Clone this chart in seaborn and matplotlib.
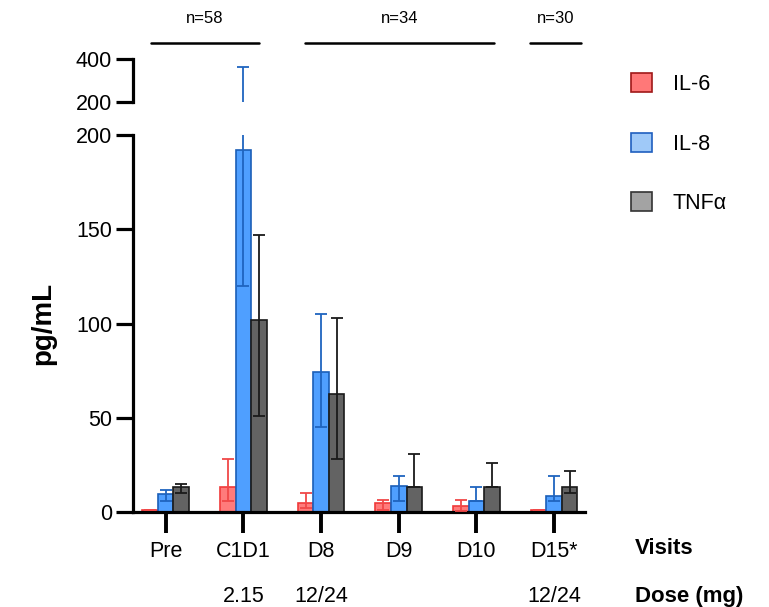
import numpy as np
import pandas as pd
import seaborn as sns
import matplotlib.pyplot as plt
from matplotlib.patches import Patch
from matplotlib.transforms import blended_transform_factory

visits = ["Pre", "C1D1", "D8", "D9", "D10", "D15*"]
doses = ["", "2.15", "12/24", "", "", "12/24"]
cytokines = ["IL-6", "IL-8", "TNFα"]

il6 = [1, 13, 5, 5, 3, 1]
il6_lo = [1, 6, 2, 1, 0.5, 1]
il6_hi = [1, 28, 10, 6.5, 6.5, 1]

il8 = [9.5, 192, 74.5, 14, 6, 8.5]
il8_lo = [6, 120, 45, 6, 6, 6]
il8_hi = [11.5, 365, 105, 19, 13, 19]

tnf = [13, 102, 62.5, 13, 13, 13]
tnf_lo = [10, 51, 28, 13, 13, 10]
tnf_hi = [15, 147, 103, 31, 26, 22]

groups = ["n=58", "n=34", "n=30"]
group_spans = [(-0.19, 1.2), (1.79, 4.23), (4.69, 5.35)]

bar_fill = ["#ff7b7b", "#4f9fff", "#636363"]
bar_edge = ["#f03a3a", "#1b5fb8", "#1a1a1a"]
err_col = ["#f04848", "#1f64bf", "#1a1a1a"]
leg_fill = ["#ff7878", "#9fc9f8", "#a3a3a3"]
leg_edge = ["#a01818", "#1f5fbf", "#333333"]

means = [il6, il8, tnf]
lows = [il6_lo, il8_lo, tnf_lo]
highs = [il6_hi, il8_hi, tnf_hi]

rows = []
for c, vals in zip(cytokines, means):
    for v, val in zip(visits, vals):
        rows.append({"visit": v, "value": val, "cytokine": c})
df = pd.DataFrame(rows)

sns.set_style("white")
plt.rcParams["font.family"] = ["Liberation Sans", "DejaVu Sans"]
plt.rcParams["text.color"] = "black"
plt.rcParams["axes.labelcolor"] = "black"
plt.rcParams["xtick.color"] = "black"
plt.rcParams["ytick.color"] = "black"

fig = plt.figure(figsize=(7.69, 6.07), dpi=100)
ax = fig.add_axes([0.173, 0.1565, 0.588, 0.6211])
ax_top = fig.add_axes([0.173, 0.8325, 0.588, 0.0698])


def draw(a):
    sns.barplot(data=df, x="visit", y="value", hue="cytokine", order=visits,
                hue_order=cytokines, palette=bar_fill, width=0.6, gap=0,
                errorbar=None, legend=False, linewidth=1.2, saturation=1, ax=a)
    bars = list(a.containers)
    for i, cont in enumerate(bars):
        xs = []
        for p in cont:
            p.set_edgecolor(bar_edge[i])
            xs.append(p.get_x() + p.get_width() / 2)
        m = np.array(means[i], dtype=float)
        lo = m - np.array(lows[i], dtype=float)
        hi = np.array(highs[i], dtype=float) - m
        a.errorbar(xs, m, yerr=[lo, hi], fmt="none", ecolor=err_col[i],
                   elinewidth=1.3, capsize=4, capthick=1.3, zorder=3)
    a.set_xlim(-0.42, 5.40)
    a.set_xlabel("")
    a.set_ylabel("")


draw(ax)
draw(ax_top)

ax.set_ylim(0, 200)
ax.set_yticks([0, 50, 100, 150, 200])
for s in ["top", "right"]:
    ax.spines[s].set_visible(False)
for s in ["left", "bottom"]:
    ax.spines[s].set_linewidth(2.3)
    ax.spines[s].set_color("black")
ax.tick_params(axis="y", direction="out", length=12, width=2.3, labelsize=15.5, pad=3, left=True)
ax.tick_params(axis="x", direction="out", length=15, width=2.8, labelsize=15.5, pad=6, bottom=True)
ax.set_ylabel("pg/mL", fontsize=20, fontweight="bold", labelpad=14)

ax_top.set_ylim(200, 400)
ax_top.set_yticks([200, 400])
for s in ["top", "right", "bottom"]:
    ax_top.spines[s].set_visible(False)
ax_top.spines["left"].set_linewidth(2.3)
ax_top.spines["left"].set_color("black")
ax_top.set_xticks([])
ax_top.tick_params(axis="y", direction="out", length=12, width=2.3, labelsize=15.5, pad=3, left=True)
ax_top.patch.set_visible(False)

# group brackets above the plot
tr = blended_transform_factory(ax.transData, fig.transFigure)
for g, (x0, x1) in zip(groups, group_spans):
    fig.lines.append(plt.Line2D([x0, x1], [0.929, 0.929], transform=tr, color="black", lw=1.8))
    fig.text((x0 + x1) / 2, 0.969, g, transform=tr, ha="center", va="center", fontsize=12)

# dose row and row titles
for i, d in enumerate(doses):
    if d:
        fig.text(i, 0.018, d, transform=tr, ha="center", va="center", fontsize=15.5)
fig.text(0.826, 0.097, "Visits", ha="left", va="center", fontsize=16, fontweight="bold")
fig.text(0.826, 0.018, "Dose (mg)", ha="left", va="center", fontsize=16, fontweight="bold")

handles = [Patch(facecolor=f, edgecolor=e, linewidth=1.2) for f, e in zip(leg_fill, leg_edge)]
fig.legend(handles, cytokines, loc="upper left", bbox_to_anchor=(0.820, 0.880),
           frameon=False, fontsize=15.5, handlelength=1.0, handleheight=1.0,
           handletextpad=0.95, labelspacing=1.75, borderpad=0, borderaxespad=0)

fig.savefig("out.png", dpi=100)
